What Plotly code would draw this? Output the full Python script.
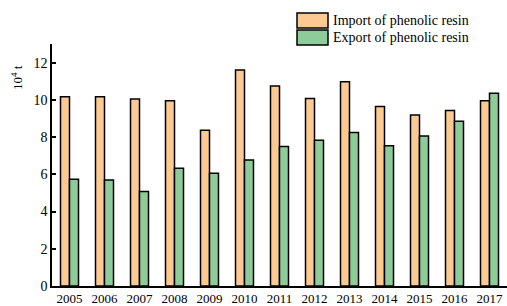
import plotly.graph_objects as go

years = ["2005", "2006", "2007", "2008", "2009", "2010", "2011", "2012", "2013", "2014", "2015", "2016", "2017"]
imports = [10.16, 10.16, 10.05, 9.95, 8.37, 11.6, 10.75, 10.07, 10.97, 9.64, 9.18, 9.43, 9.95]
exports = [5.74, 5.70, 5.07, 6.33, 6.06, 6.77, 7.49, 7.83, 8.24, 7.54, 8.06, 8.85, 10.36]
series_names = ["Import of phenolic resin", "Export of phenolic resin"]
colors = ["#FDC992", "#8DCC99"]

fig = go.Figure()
for name, vals, col in zip(series_names, [imports, exports], colors):
    fig.add_trace(go.Bar(x=years, y=vals, name=name, marker=dict(color=col, line=dict(color="black", width=1.5)),
                         showlegend=False))

font = dict(family="Liberation Serif, Times New Roman, serif", color="black")
fig.update_layout(
    width=507, height=306,
    margin=dict(l=52, r=0, t=44, b=20),
    paper_bgcolor="white", plot_bgcolor="white",
    barmode="group", bargap=0.486, bargroupgap=0,
    font=dict(size=13, **font),
    xaxis=dict(type="category", range=[-0.5, 12.5], showline=True, linecolor="black", linewidth=1.5,
               ticks="", showgrid=False, tickfont=dict(size=13, **font)),
    yaxis=dict(range=[0, 13], tickvals=[0, 2, 4, 6, 8, 10, 12], showline=True, linecolor="black",
               linewidth=1.5, ticks="inside", ticklen=4, tickwidth=1.5, tickcolor="black",
               showgrid=False, zeroline=False, tickfont=dict(size=14, **font)),
)

# legend drawn as boxes + text
legend_rows = [(13, 28), (30, 45)]
for (y0, y1), name, col in zip(legend_rows, series_names, colors):
    fig.add_shape(type="rect", xref="paper", yref="paper",
                  x0=(297 - 52) / 455, x1=(328 - 52) / 455,
                  y0=1 + (44 - y1) / 242, y1=1 + (44 - y0) / 242,
                  fillcolor=col, line=dict(color="black", width=1.5))
    fig.add_annotation(xref="paper", yref="paper", x=(331 - 52) / 455, y=1 + (44 - (y0 + y1) / 2) / 242,
                       text=name, showarrow=False, xanchor="left", yanchor="middle",
                       font=dict(size=14, **font))

fig.add_annotation(xref="paper", yref="paper", x=-35 / 455, y=1 - (78 - 44) / 242,
                   text="10<sup>4</sup> t", textangle=-90, showarrow=False,
                   xanchor="center", yanchor="middle", font=dict(size=13, **font))

fig.write_html("out.html", config={"displayModeBar": False},
               post_script="document.body.style.margin='0';document.body.style.overflow='hidden';")
